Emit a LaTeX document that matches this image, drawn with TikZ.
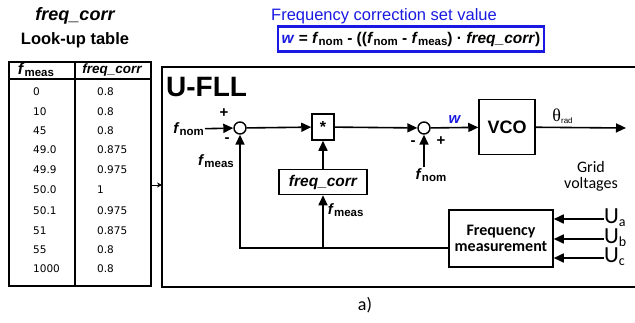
\documentclass[tikz,border=0pt]{standalone}
\usepackage{fontspec}
\setmainfont{Liberation Sans}
\newfontfamily\calfont{Carlito}
\newfontfamily\tabfont{DejaVu Sans}
\newfontfamily\serfont{Liberation Serif}
\usetikzlibrary{arrows.meta, positioning, calc}
\definecolor{setblue}{RGB}{25,25,225}
\newcommand{\fsz}[1]{\fontsize{#1}{#1}\selectfont}
\newcommand{\fsub}[1]{\textbf{\textit{f}}\raisebox{-2.5pt}{\fsz{11.5}\bfseries #1}}
\newcommand{\usub}[1]{U\raisebox{-3pt}{\fsz{14}#1}}
\tikzstyle{block} = [rectangle, draw, line width=1.5pt, inner sep=0pt]
\tikzstyle{sum} = [circle, draw, line width=1.4pt, minimum size=12pt, inner sep=0pt]
\tikzstyle{line} = [draw, line width=1.6pt, -{Triangle[length=10pt, width=9pt]}]
\tikzstyle{cell} = [font=\tabfont\fsz{10.5}, anchor=west, inner sep=0pt]
\tikzstyle{lbl} = [font=\fsz{15}\bfseries, inner sep=1pt]
\tikzstyle{sign} = [font=\fsz{15}\bfseries, inner sep=0pt]

\begin{document}
\begin{tikzpicture}[x=1pt, y=-1pt, node distance=1.2cm and 1.8cm]
        \useasboundingbox (0,0) rectangle (635,322);

        \node (ttitle) at (75,16) [font=\fsz{18}\bfseries\itshape] {freq\_corr};
        \node (tsub) [below=1pt of ttitle, font=\fsz{16.5}\bfseries] {Look-up table};
        \node (tab) [rectangle, draw, line width=1.5pt, anchor=north west, minimum width=142pt, minimum height=224pt] at (8,61) {};
        \draw [line width=1.5pt] (8,79) -- (150,79);
        \draw [line width=1.5pt] (75,61) -- (75,285);
        \node (hmeas) at (36,70) [font=\fsz{16}\bfseries] {\fsub{meas}};
        \node (hcorr) at (112,70) [font=\fsz{13.5}\bfseries\itshape] {freq\_corr};

        \node (m1) [cell] at (33,92) {0};      \node (c1) [cell] at (97,92) {0.8};
        \node (m2) [cell] at (33,112) {10};    \node (c2) [cell] at (97,112) {0.8};
        \node (m3) [cell] at (33,131) {45};    \node (c3) [cell] at (97,131) {0.8};
        \node (m4) [cell] at (33,150) {49.0};  \node (c4) [cell] at (97,150) {0.875};
        \node (m5) [cell] at (33,170) {49.9};  \node (c5) [cell] at (97,170) {0.975};
        \node (m6) [cell] at (33,190) {50.0};  \node (c6) [cell] at (97,190) {1};
        \node (m7) [cell] at (33,211) {50.1};  \node (c7) [cell] at (97,211) {0.975};
        \node (m8) [cell] at (33,231) {51};    \node (c8) [cell] at (97,231) {0.875};
        \node (m9) [cell] at (33,250) {55};    \node (c9) [cell] at (97,250) {0.8};
        \node (m10) [cell] at (33,269) {1000}; \node (c10) [cell] at (97,269) {0.8};

        \coordinate (tabin) at (162,185);
        \draw [line width=0.8pt, -{Stealth[length=5pt, width=5pt]}] (tab.east |- tabin) -- (tabin);

        \node (ftitle) at (384,16) [font=\fsz{16.5}, text=setblue] {Frequency correction set value};
        \node (formula) at (411,39) [draw=setblue, line width=2.5pt, minimum width=266pt, minimum height=25pt, inner sep=2pt, font=\fsz{15.5}\bfseries] {\textcolor{setblue}{\textit{w}} = \fsub{nom} - ((\fsub{nom} - \fsub{meas}) · \textit{freq\_corr})};

        \draw [line width=1.5pt] (637,67) -- (162,67) -- (162,287) -- (637,287);
        \node (ufll) at (166,87) [anchor=west, font=\fsz{28}\bfseries, inner sep=0pt] {U-FLL};

        \node (sum1) [sum] at (240,128) {};
        \node (fnom1) [lbl, anchor=east] at (205,129) {\fsub{nom}};
        \node (plus1) [sign] at (224,113) {+};
        \node (minus1) [sign] at (227,140) {-};
        \node (fmeas1) [lbl] at (216,161) {\fsub{meas}};

        \node (mult) [block, minimum width=22pt, minimum height=26pt, font=\fsz{16}\bfseries] at (323,127) {*};
        \node (fc) [block, minimum width=88pt, minimum height=25pt, font=\fsz{15.5}\bfseries\itshape] at (323,182) {freq\_corr};

        \node (sum2) [sum] at (424,128) {};
        \node (minus2) [sign] at (413,143) {-};
        \node (plus2) [sign] at (441,141) {+};
        \node (fnom2) [lbl] at (431,175) {\fsub{nom}};
        \node (vco) [block, minimum width=56pt, minimum height=55pt, font=\fsz{18}\bfseries] at (507,127) {VCO};
        \coordinate (theta) at (626,128);

        \node (fm) [block, minimum width=104pt, minimum height=57pt, align=center, font=\calfont\fsz{16}\bfseries] at (501,238.5) {Frequency\\measurement};
        \node (grid) [align=center, font=\calfont\fsz{16}] at (591,176) {Grid\\voltages};
        \node (ua) [anchor=west, inner sep=0pt, font=\calfont\fsz{23}] at (604,218) {\usub{a}};
        \node (ub) [anchor=west, inner sep=0pt, font=\calfont\fsz{23}] at (604,238) {\usub{b}};
        \node (uc) [anchor=west, inner sep=0pt, font=\calfont\fsz{23}] at (604,257) {\usub{c}};
        \coordinate (fb) at ([yshift=-9.5pt]fm.west);

        \path [line] (fnom1) -- (sum1);
        \path [line] (sum1) -- (mult);
        \path [line] (fc) -- (mult);
        \path [line] (mult) -- (sum2);
        \path [line] (fnom2.north -| sum2) -- (sum2);
        \path [line] (sum2) -- (vco) node[midway, above, font=\fsz{15}\bfseries\itshape, text=setblue] {w};
        \path [line] (vco) -- (theta) node[pos=0.3, above, font=\fsz{12}] {{\serfont\fsz{18}θ}\textsubscript{rad}};
        \path [line] (fb) -| (sum1);
        \path [line] (fb -| fc) -- (fc) node[pos=0.72, right, xshift=3pt, lbl] {\fsub{meas}};
        \path [line] ([yshift=-1pt]ua.west) -- ([yshift=-1pt]ua.west -| fm.east);
        \path [line] ([yshift=-1pt]ub.west) -- ([yshift=-1pt]ub.west -| fm.east);
        \path [line] ([yshift=-1pt]uc.west) -- ([yshift=-1pt]uc.west -| fm.east);

        \node (caption) at (365,305) [font=\calfont\fsz{18}] {a)};
    \end{tikzpicture}
\end{document}
